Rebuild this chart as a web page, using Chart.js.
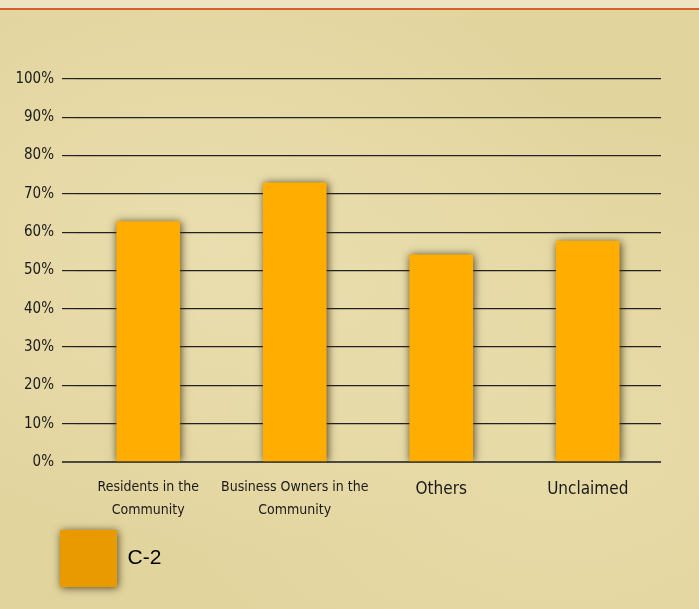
<!DOCTYPE html>
<html>
<head>
<meta charset="utf-8">
<script src="https://cdn.jsdelivr.net/npm/chart.js@4.4.0/dist/chart.umd.min.js"></script>
<style>
  html, body { margin: 0; padding: 0; }
  body {
    width: 699px; height: 609px; overflow: hidden; position: relative;
    background:
      radial-gradient(ellipse at 30% 40%, rgba(240,230,190,0.55), rgba(240,230,190,0) 60%),
      radial-gradient(ellipse at 80% 70%, rgba(236,226,180,0.5), rgba(236,226,180,0) 55%),
      #e2d49d;
  }
  #top {
    position: absolute; left: 0; top: 0; width: 699px; height: 8px;
    background: #ede4c4; border-bottom: 2px solid #d4612b;
  }
  #c { position: absolute; left: 0; top: 0; }
</style>
</head>
<body>
<div id="top"></div>
<canvas id="c" width="699" height="609"></canvas>
<script>
// ================= DATA =================
const categories = [
  ["Residents in the", "Community"],
  ["Business Owners in the", "Community"],
  "Others",
  "Unclaimed"
];
const seriesName = "C-2";
const seriesValues = [62.8, 72.9, 54.1, 57.7];
const yMin = 0;
const yMax = 100;
const yStep = 10;

const narrow = "'DejaVu Sans Condensed', 'Liberation Sans Narrow', sans-serif";
const legendInset = 60;

// ================= PLUGINS =================
const legendShift = {
  id: "legendShift",
  afterLayout(chart) {
    const lg = chart.legend;
    lg.left += legendInset;
    lg.right += legendInset;
  }
};

const boxShadow = {
  id: "boxShadow",
  beforeDraw(chart) {
    // shadow behind the legend box
    const lg = chart.legend;
    if (!lg || !lg.legendHitBoxes || !lg.legendHitBoxes.length) return;
    const hb = lg.legendHitBoxes[0];
    const bw = lg.options.labels.boxWidth;
    const ctx = chart.ctx;
    ctx.save();
    ctx.shadowColor = "rgba(50,40,10,0.8)";
    ctx.shadowBlur = 8;
    ctx.shadowOffsetX = 1;
    ctx.shadowOffsetY = 1;
    ctx.fillStyle = "#e99a00";
    ctx.fillRect(hb.left, hb.top, bw, bw);
    ctx.restore();
  },
  beforeDatasetsDraw(chart) {
    const ctx = chart.ctx;
    ctx.save();
    ctx.shadowColor = "rgba(50,40,10,0.85)";
    ctx.shadowBlur = 8;
    ctx.shadowOffsetX = 1;
    ctx.shadowOffsetY = 1;
  },
  afterDatasetsDraw(chart) {
    chart.ctx.restore();
  }
};

// ================= CHART =================
const ctx = document.getElementById("c").getContext("2d");

new Chart(ctx, {
  type: "bar",
  data: {
    labels: categories,
    datasets: [{
      label: seriesName,
      data: seriesValues,
      backgroundColor: "#ffad00",
      borderWidth: 0,
      barThickness: 63
    }]
  },
  options: {
    responsive: false,
    animation: false,
    layout: { padding: { top: 79, left: 0, right: 38, bottom: 12 } },
    plugins: {
      legend: {
        position: "bottom",
        align: "start",
        labels: {
          boxWidth: 57,
          boxHeight: 57,
          padding: 0,
          color: "#111",
          font: { family: "'Liberation Sans', Arial, sans-serif", size: 21 },
          generateLabels: (chart) => [{
            text: seriesName,
            fillStyle: "#e99a00",
            strokeStyle: "#e99a00",
            lineWidth: 0,
            datasetIndex: 0
          }]
        }
      },
      tooltip: { enabled: false }
    },
    scales: {
      x: {
        grid: { display: false, drawTicks: false },
        border: { display: false },
        afterFit: (scale) => { scale.height = 68; },
        ticks: {
          padding: 14,
          color: "#1a1a1a",
          autoSkip: false,
          maxRotation: 0,
          font: (c) => c.index >= 2
            ? { family: narrow, size: 17, lineHeight: 1.6 }
            : { family: narrow, size: 14, lineHeight: 1.65 }
        }
      },
      y: {
        min: yMin,
        max: yMax,
        afterFit: (scale) => { scale.width = 75; },
        border: { display: false },
        grid: {
          color: (c) => c.tick && c.tick.value === 0 ? "#4a4a40" : "#222",
          lineWidth: (c) => c.tick && c.tick.value === 0 ? 2 : 1.2,
          tickLength: 13
        },
        ticks: {
          stepSize: yStep,
          padding: 8,
          color: "#1a1a1a",
          font: { family: narrow, size: 15 },
          callback: (v) => v + "%"
        }
      }
    }
  },
  plugins: [legendShift, boxShadow]
});
</script>
</body>
</html>
